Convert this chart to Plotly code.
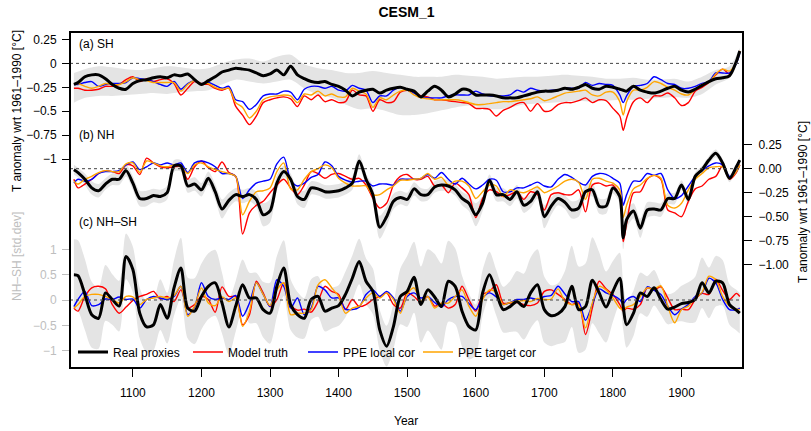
import plotly.graph_objects as go

# ---------------- data ----------------
YEARS = [1014] + list(range(1020, 1811, 10)) + [1815] + list(range(1820, 1981, 10)) + [1985]

# (a) SH  [degC]
SH_REAL = [-0.22,-0.20,-0.14,-0.12,-0.12,-0.16,-0.22,-0.26,-0.27,-0.21,
           -0.18,-0.17,-0.15,-0.14,-0.15,-0.12,-0.13,-0.11,-0.17,-0.22,
           -0.18,-0.14,-0.09,-0.07,-0.05,-0.06,-0.07,-0.10,-0.13,-0.11,
           -0.07,-0.12,-0.03,-0.12,-0.16,-0.19,-0.20,-0.19,-0.22,-0.24,
           -0.28,-0.34,-0.30,-0.28,-0.27,-0.31,-0.28,-0.26,-0.25,-0.27,
           -0.29,-0.35,-0.29,-0.24,-0.28,-0.35,-0.32,-0.27,-0.28,-0.33,
           -0.33,-0.33,-0.34,-0.36,-0.36,-0.36,-0.34,-0.32,-0.30,-0.29,
           -0.29,-0.28,-0.26,-0.27,-0.25,-0.22,-0.26,-0.27,-0.24,-0.25,
           -0.27,-0.28,-0.29,-0.24,-0.28,-0.30,-0.31,-0.29,-0.26,-0.24,
           -0.28,-0.30,-0.27,-0.23,-0.19,-0.16,-0.15,-0.13,0.02,0.13]
SH_TRUTH = [-0.26,-0.26,-0.28,-0.28,-0.27,-0.24,-0.24,-0.22,-0.17,-0.14,
            -0.19,-0.16,-0.19,-0.17,-0.16,-0.21,-0.33,-0.26,-0.19,-0.22,
            -0.22,-0.26,-0.28,-0.26,-0.45,-0.54,-0.64,-0.55,-0.41,-0.38,
            -0.36,-0.35,-0.37,-0.45,-0.34,-0.38,-0.33,-0.40,-0.38,-0.41,
            -0.40,-0.28,-0.33,-0.34,-0.50,-0.38,-0.41,-0.40,-0.30,-0.28,
            -0.30,-0.34,-0.35,-0.38,-0.38,-0.39,-0.40,-0.41,-0.42,-0.47,
            -0.47,-0.48,-0.55,-0.49,-0.46,-0.42,-0.41,-0.50,-0.42,-0.50,
            -0.49,-0.43,-0.41,-0.41,-0.39,-0.36,-0.41,-0.38,-0.39,-0.47,
            -0.55,-0.70,-0.57,-0.40,-0.36,-0.41,-0.34,-0.34,-0.31,-0.36,
            -0.44,-0.41,-0.29,-0.25,-0.20,-0.12,-0.06,-0.11,0.02,0.13]
SH_LOCAL = [-0.22,-0.22,-0.20,-0.19,-0.24,-0.22,-0.21,-0.21,-0.20,-0.15,
            -0.16,-0.17,-0.19,-0.22,-0.24,-0.19,-0.27,-0.21,-0.18,-0.21,
            -0.20,-0.23,-0.26,-0.24,-0.38,-0.40,-0.48,-0.43,-0.34,-0.32,
            -0.32,-0.29,-0.30,-0.38,-0.27,-0.24,-0.24,-0.26,-0.24,-0.28,
            -0.29,-0.23,-0.26,-0.28,-0.41,-0.34,-0.34,-0.28,-0.25,-0.28,
            -0.31,-0.35,-0.36,-0.36,-0.36,-0.34,-0.33,-0.33,-0.33,-0.29,
            -0.32,-0.34,-0.34,-0.34,-0.33,-0.28,-0.30,-0.26,-0.28,-0.29,
            -0.28,-0.28,-0.26,-0.26,-0.26,-0.20,-0.23,-0.21,-0.22,-0.23,
            -0.33,-0.41,-0.34,-0.24,-0.23,-0.21,-0.14,-0.17,-0.21,-0.22,
            -0.26,-0.26,-0.24,-0.21,-0.19,-0.10,-0.10,-0.10,0.00,0.11]
SH_TARGET = [-0.22,-0.21,-0.24,-0.26,-0.24,-0.21,-0.22,-0.22,-0.19,-0.15,
             -0.17,-0.18,-0.20,-0.20,-0.20,-0.20,-0.29,-0.22,-0.18,-0.21,
             -0.21,-0.25,-0.27,-0.26,-0.41,-0.46,-0.57,-0.50,-0.38,-0.35,
             -0.34,-0.33,-0.34,-0.41,-0.32,-0.33,-0.29,-0.34,-0.32,-0.35,
             -0.35,-0.26,-0.29,-0.32,-0.46,-0.36,-0.38,-0.33,-0.29,-0.28,
             -0.33,-0.36,-0.37,-0.38,-0.38,-0.38,-0.38,-0.39,-0.41,-0.43,
             -0.43,-0.42,-0.41,-0.40,-0.40,-0.39,-0.38,-0.37,-0.35,-0.39,
             -0.37,-0.34,-0.31,-0.30,-0.29,-0.28,-0.33,-0.34,-0.30,-0.30,
             -0.40,-0.54,-0.40,-0.28,-0.28,-0.25,-0.19,-0.21,-0.25,-0.28,
             -0.32,-0.33,-0.27,-0.22,-0.20,-0.11,-0.06,-0.08,0.01,0.13]
SH_BAND_YEARS = [1014] + list(range(1030, 1971, 20)) + [1985]
SH_BAND_HI = [-0.10,-0.06,-0.03,-0.04,-0.06,-0.07,-0.05,-0.03,-0.04,-0.06,
              -0.05,0.00,0.04,0.05,0.02,0.07,0.09,-0.01,-0.05,-0.07,
              -0.10,-0.10,-0.08,-0.10,-0.12,-0.14,-0.14,-0.14,-0.12,-0.13,
              -0.14,-0.16,-0.15,-0.14,-0.14,-0.13,-0.12,-0.13,-0.14,-0.16,
              -0.16,-0.15,-0.17,-0.17,-0.16,-0.19,-0.14,-0.07,-0.03,0.16]
SH_BAND_LO = [-0.41,-0.36,-0.34,-0.34,-0.33,-0.32,-0.31,-0.32,-0.30,-0.29,
              -0.28,-0.22,-0.17,-0.19,-0.21,-0.19,-0.17,-0.26,-0.33,-0.36,
              -0.43,-0.48,-0.47,-0.50,-0.54,-0.54,-0.52,-0.49,-0.46,-0.44,
              -0.46,-0.48,-0.46,-0.43,-0.42,-0.41,-0.40,-0.39,-0.40,-0.39,
              -0.38,-0.38,-0.37,-0.36,-0.35,-0.36,-0.32,-0.22,-0.15,0.07]

# (b) NH  [degC]
NH_REAL = [-0.01,-0.04,-0.11,-0.20,-0.23,-0.16,-0.11,-0.11,-0.02,-0.15,
           -0.31,-0.31,-0.28,-0.29,-0.25,0.03,0.03,-0.18,-0.16,-0.22,
           -0.10,-0.24,-0.42,-0.33,-0.27,-0.29,-0.27,-0.32,-0.48,-0.44,
           -0.15,-0.03,-0.11,-0.29,-0.32,-0.20,-0.21,-0.24,-0.24,-0.23,
           -0.20,-0.15,0.08,-0.11,-0.27,-0.61,-0.50,-0.34,-0.30,-0.32,
           -0.21,-0.27,-0.27,-0.19,-0.17,-0.18,-0.22,-0.31,-0.36,-0.48,
           -0.36,-0.12,-0.27,-0.27,-0.32,-0.24,-0.38,-0.34,-0.24,-0.50,
           -0.39,-0.31,-0.35,-0.43,-0.41,-0.24,-0.22,-0.39,-0.39,-0.20,
           -0.29,-0.72,-0.53,-0.44,-0.62,-0.43,-0.42,-0.43,-0.31,-0.31,
           -0.17,-0.32,-0.08,-0.01,0.09,0.16,0.06,-0.10,0.02,0.09]
NH_TRUTH = [-0.11,-0.20,-0.16,-0.11,-0.05,-0.02,-0.03,-0.05,0.04,0.03,
            -0.06,0.11,0.06,0.02,0.01,0.02,0.02,-0.11,0.02,0.08,
            0.01,-0.03,0.07,-0.04,-0.08,-0.68,-0.46,-0.38,-0.34,-0.25,
            -0.17,-0.11,-0.20,-0.27,-0.17,-0.03,-0.05,-0.10,-0.06,-0.05,
            -0.08,-0.11,-0.10,-0.17,-0.31,-0.41,-0.36,-0.17,-0.08,-0.06,
            -0.11,-0.11,-0.08,-0.18,-0.17,-0.25,-0.15,-0.20,-0.27,-0.51,
            -0.31,-0.22,-0.24,-0.29,-0.27,-0.24,-0.32,-0.24,-0.27,-0.43,
            -0.27,-0.25,-0.27,-0.27,-0.22,-0.45,-0.17,-0.15,-0.18,-0.17,
            -0.29,-0.76,-0.57,-0.25,-0.24,-0.11,-0.07,-0.11,-0.43,-0.46,
            -0.50,-0.34,-0.21,-0.18,-0.11,-0.08,0.03,-0.11,-0.04,0.04]
NH_LOCAL = [-0.15,-0.11,-0.13,-0.11,-0.05,-0.03,-0.03,-0.02,0.04,0.07,
            -0.01,0.02,0.06,0.04,0.06,0.04,0.06,-0.04,0.06,0.08,
            0.06,0.02,-0.05,-0.05,-0.08,-0.31,-0.22,-0.15,-0.13,-0.11,
            0.05,0.12,-0.12,-0.18,-0.15,-0.09,-0.06,0.07,0.03,-0.08,
            -0.12,-0.14,-0.13,-0.13,-0.18,-0.16,-0.16,-0.17,-0.11,-0.11,
            -0.11,-0.10,-0.06,-0.10,-0.04,-0.11,-0.16,-0.10,-0.16,-0.21,
            -0.17,-0.11,-0.12,-0.24,-0.24,-0.20,-0.20,-0.17,-0.14,-0.18,
            -0.19,-0.11,-0.06,-0.09,-0.14,-0.17,-0.08,-0.05,-0.06,-0.10,
            -0.15,-0.38,-0.27,-0.13,-0.13,-0.05,-0.07,-0.05,-0.22,-0.31,
            -0.28,-0.18,-0.08,-0.02,0.03,0.06,0.04,-0.08,-0.03,0.04]
NH_TARGET = [-0.13,-0.16,-0.11,-0.08,-0.04,-0.02,-0.03,-0.03,0.05,0.06,
             -0.04,0.08,0.06,0.03,0.02,0.04,0.02,-0.05,0.04,0.06,
             0.02,-0.01,-0.03,-0.05,-0.08,-0.48,-0.34,-0.24,-0.23,-0.20,
             -0.03,0.06,-0.21,-0.22,-0.11,-0.03,0.00,0.04,0.01,-0.10,
             -0.15,-0.18,-0.18,-0.18,-0.27,-0.27,-0.22,-0.18,-0.12,-0.12,
             -0.11,-0.10,-0.05,-0.11,-0.09,-0.17,-0.13,-0.13,-0.18,-0.31,
             -0.24,-0.17,-0.18,-0.29,-0.22,-0.24,-0.25,-0.22,-0.19,-0.25,
             -0.22,-0.18,-0.13,-0.11,-0.14,-0.32,-0.11,-0.10,-0.13,-0.15,
             -0.22,-0.51,-0.38,-0.21,-0.17,-0.10,-0.07,-0.10,-0.38,-0.41,
             -0.36,-0.22,-0.11,-0.05,0.01,0.02,0.02,-0.10,-0.03,0.04]
NH_SPREAD = [0.05,0.05,0.06,0.07,0.07,0.06,
             0.06,0.06,0.06,0.07,0.08,0.08,0.07,0.07,0.07,
             0.06,0.06,0.07,0.07,0.07,0.07,0.08,0.10,0.08,0.07,
             0.07,0.07,0.08,0.12,0.12,0.08,0.06,0.06,0.08,0.09,
             0.07,0.07,0.07,0.07,0.07,0.07,0.07,0.07,0.06,0.08,
             0.12,0.10,0.08,0.07,0.07,0.07,0.07,0.06,0.06,0.06,
             0.06,0.06,0.07,0.08,0.12,0.08,0.06,0.07,0.07,0.07,
             0.07,0.08,0.07,0.07,0.12,0.09,0.07,0.07,0.09,0.09,
             0.07,0.07,0.08,0.08,0.06,0.07,0.12,
             0.10,0.08,0.10,0.08,0.07,0.07,0.06,0.06,0.05,
             0.05,0.04,0.04,0.04,0.04,0.04,0.04,0.03,0.03]

# (c) NH-SH  [std.dev]
NS_REAL = [0.50,0.48,0.11,-0.29,-0.36,0.14,0.01,-0.12,0.86,0.60,
           -0.26,-0.53,-0.49,-0.09,-0.36,0.24,0.63,-0.16,-0.22,0.07,
           0.27,0.34,-0.06,-0.53,-0.12,0.30,0.04,0.04,-0.19,-0.26,
           0.27,0.63,-0.09,-0.29,-0.36,0.01,0.07,-0.22,-0.16,-0.11,
           0.11,0.43,0.76,0.37,0.17,-0.59,-0.91,-0.52,0.07,0.17,
           0.45,-0.09,0.20,0.06,-0.13,0.37,0.27,-0.22,-0.52,-0.59,
           0.14,0.50,0.14,-0.19,-0.13,-0.03,-0.13,0.14,0.30,-0.19,
           -0.31,-0.27,-0.13,0.27,-0.19,-0.13,0.39,0.14,-0.14,0.17,
           0.43,-0.13,-0.49,-0.26,0.14,0.07,0.24,0.01,-0.18,-0.14,
           -0.07,-0.05,0.01,0.34,0.14,0.37,0.34,-0.09,-0.20,-0.26]
NS_TRUTH = [-0.16,-0.22,0.07,0.24,0.27,0.22,-0.09,-0.26,-0.14,-0.01,
            0.07,0.11,0.17,0.02,0.07,-0.03,0.20,-0.16,-0.09,0.07,
            0.01,-0.24,0.26,0.07,0.07,-0.49,-0.29,0.37,0.14,-0.13,
            0.01,0.34,-0.09,-0.20,-0.18,-0.24,-0.03,0.27,0.17,0.11,
            -0.19,0.01,-0.13,-0.09,0.01,0.07,0.14,-0.09,-0.16,0.14,
            0.07,-0.05,0.07,-0.12,-0.07,-0.16,-0.09,0.27,0.01,-0.22,
            0.11,0.17,0.30,-0.06,-0.06,-0.05,-0.09,-0.11,-0.06,0.17,
            0.20,0.11,0.01,-0.09,-0.06,-0.68,-0.16,0.37,0.22,0.11,
            -0.09,-0.22,-0.16,-0.18,-0.09,0.24,0.20,0.26,0.04,-0.19,
            -0.18,-0.19,0.01,0.13,0.11,0.41,0.19,0.01,0.13,0.07]
NS_LOCAL = [-0.13,0.01,0.17,-0.11,-0.09,0.02,0.01,0.06,0.01,0.02,
            -0.16,0.01,0.07,0.04,0.01,0.07,0.27,-0.29,-0.14,0.34,
            0.07,0.01,0.04,0.01,0.09,-0.32,-0.06,0.34,0.11,-0.13,
            0.40,0.27,-0.16,0.04,-0.29,-0.16,0.27,0.20,0.04,0.04,
            -0.18,-0.19,-0.14,0.11,0.20,0.07,0.17,0.04,-0.22,0.07,
            0.14,0.04,0.07,-0.05,-0.14,0.01,0.07,0.07,-0.07,-0.19,
            0.04,0.14,0.06,-0.09,-0.05,0.01,0.01,0.04,0.01,0.07,
            0.09,0.27,0.12,-0.03,-0.03,-0.40,-0.09,0.22,0.14,0.09,
            0.01,-0.07,0.01,0.07,-0.03,0.26,0.19,0.11,-0.12,-0.29,
            -0.18,-0.09,0.07,0.14,0.43,0.34,0.01,-0.19,-0.19,-0.16]
NS_TARGET = [-0.16,-0.09,0.07,0.11,0.11,0.07,0.01,-0.06,0.07,0.06,
             -0.09,0.01,0.04,0.07,0.04,0.09,0.27,-0.32,-0.12,0.24,
             -0.06,-0.11,0.06,-0.03,0.04,-0.52,-0.22,0.34,0.11,-0.11,
             0.20,0.34,-0.29,-0.26,-0.26,-0.19,0.30,0.40,0.24,0.07,
             -0.26,-0.16,-0.12,0.04,0.14,0.04,0.14,0.01,-0.26,0.11,
             0.24,-0.03,0.07,-0.16,-0.06,-0.06,0.07,0.20,-0.12,-0.32,
             0.01,0.20,0.15,-0.09,-0.05,-0.03,-0.01,-0.03,0.03,0.01,
             0.02,0.22,-0.03,-0.09,-0.09,-0.55,-0.06,0.27,0.20,0.04,
             -0.16,-0.19,-0.14,-0.09,0.07,0.24,0.22,0.28,-0.12,-0.45,
             -0.19,-0.12,0.04,0.15,0.47,0.40,0.07,-0.12,-0.18,-0.19]
NS_SPREAD = [0.70,0.70,0.70,0.65,0.60,0.55,
             0.50,0.50,0.45,0.45,0.50,0.50,0.50,0.50,0.50,
             0.55,0.60,0.60,0.65,0.65,0.65,0.65,0.60,0.55,0.50,
             0.50,0.50,0.50,0.55,0.60,0.60,0.55,0.50,0.45,0.40,
             0.40,0.40,0.40,0.40,0.40,0.45,0.45,0.45,0.45,0.45,
             0.40,0.40,0.45,0.55,0.70,0.70,0.75,0.80,0.85,0.85,
             0.80,0.75,0.70,0.65,0.50,0.45,0.45,0.45,0.45,0.50,
             0.60,0.65,0.70,0.70,0.65,0.60,0.60,0.70,0.80,0.85,
             0.85,0.85,0.80,0.70,0.60,0.50,0.45,
             0.45,0.45,0.40,0.40,0.35,0.30,0.30,0.30,0.35,
             0.40,0.45,0.50,0.50,0.50,0.45,0.40,0.40,0.40]

SERIES_NAMES = ["Real proxies", "Model truth", "PPE local cor", "PPE target cor"]
X_TICKS = [1100, 1200, 1300, 1400, 1500, 1600, 1700, 1800, 1900]
SH_TICKS = [0.25, 0, -0.25, -0.5, -0.75, -1]
SH_TICKTEXT = ["0.25", "0", "\u22120.25", "\u22120.5", "\u22120.75", "\u22121"]
NH_TICKS = [0.25, 0, -0.25, -0.5, -0.75, -1]
NH_TICKTEXT = ["0.25", "0.00", "\u22120.25", "\u22120.50", "\u22120.75", "\u22121.00"]
NS_TICKS = [1, 0.5, 0, -0.5, -1]
NS_TICKTEXT = ["1", "0.5", "0", "\u22120.5", "\u22121"]

# ---------------- styling ----------------
FONT = "Liberation Sans, Arial, Helvetica, sans-serif"
BAND = "rgb(228,228,228)"
GREYTXT = "rgb(190,190,190)"
COLORS = ["black", "#FF0000", "#0000FF", "#FFA500"]
WIDTHS = [3.0, 1.4, 1.4, 1.4]
RANKS = [1, 2, 3, 4]

W, H = 811, 431
L, R, T, B = 70, 68, 32, 63
PW, PH = W - L - R, H - T - B


def px(x):
    return (x - L) / PW


def py(y):
    return (H - B - y) / PH


fig = go.Figure()


def add_band(xs, lo, hi, axis):
    fig.add_trace(go.Scatter(x=xs, y=hi, yaxis=axis, mode="lines",
                             line=dict(width=0, shape="spline", smoothing=0.8),
                             showlegend=False, hoverinfo="skip"))
    fig.add_trace(go.Scatter(x=xs, y=lo, yaxis=axis, mode="lines", fill="tonexty",
                             fillcolor=BAND,
                             line=dict(width=0, shape="spline", smoothing=0.8),
                             showlegend=False, hoverinfo="skip"))


def add_lines(series, axis, legend):
    order = [1, 2, 3, 0]  # red, blue, orange, then black on top
    for i in order:
        fig.add_trace(go.Scatter(
            x=YEARS, y=series[i], yaxis=axis, mode="lines", name=SERIES_NAMES[i],
            line=dict(color=COLORS[i], width=WIDTHS[i], shape="spline", smoothing=0.8),
            showlegend=legend, legendrank=RANKS[i]))


# panel (a)
add_band(SH_BAND_YEARS, SH_BAND_LO, SH_BAND_HI, "y")
add_lines([SH_REAL, SH_TRUTH, SH_LOCAL, SH_TARGET], "y", True)

# panel (b)
nh_lo = [m - s for m, s in zip(NH_REAL, NH_SPREAD)]
nh_hi = [m + s for m, s in zip(NH_REAL, NH_SPREAD)]
add_band(YEARS, nh_lo, nh_hi, "y2")
add_lines([NH_REAL, NH_TRUTH, NH_LOCAL, NH_TARGET], "y2", False)

# panel (c)
ns_lo = [m - s for m, s in zip(NS_REAL, NS_SPREAD)]
ns_hi = [m + s for m, s in zip(NS_REAL, NS_SPREAD)]
add_band(YEARS, ns_lo, ns_hi, "y3")
add_lines([NS_REAL, NS_TRUTH, NS_LOCAL, NS_TARGET], "y3", False)

# empty spacer entry so the last legend label is not clipped
fig.add_trace(go.Scatter(x=[None], y=[None], mode="lines", name=" ",
                         line=dict(color="rgba(0,0,0,0)", width=0),
                         showlegend=True, legendrank=5, hoverinfo="skip"))

tickfont = dict(family=FONT, size=12, color="black")

fig.update_layout(
    width=W, height=H,
    margin=dict(l=L, r=R, t=T, b=B),
    paper_bgcolor="white", plot_bgcolor="white",
    font=dict(family=FONT, size=12, color="black"),
    title=dict(text="<b>CESM_1</b>", x=0.5, xref="paper", xanchor="center",
               y=1 - 12 / H, yref="container", yanchor="middle",
               font=dict(family=FONT, size=14, color="black")),
    xaxis=dict(range=[1008.3, 1989.7], tickvals=X_TICKS, ticks="outside", ticklen=8,
               tickcolor="black", tickwidth=1, showgrid=False, zeroline=False,
               showline=False, tickfont=tickfont, ticklabelstandoff=6),
    yaxis=dict(range=[-3.183, 0.328], tickvals=SH_TICKS, ticktext=SH_TICKTEXT,
               ticks="outside", ticklen=7, tickcolor="black", showgrid=False,
               zeroline=False, showline=False, tickfont=tickfont, ticklabelstandoff=3),
    yaxis2=dict(range=[-2.076, 1.424], tickvals=NH_TICKS, ticktext=NH_TICKTEXT,
                overlaying="y", side="right", anchor="x",
                ticks="outside", ticklen=8, tickcolor="black", showgrid=False,
                zeroline=False, showline=False, tickfont=tickfont, ticklabelstandoff=4),
    yaxis3=dict(range=[-1.341, 5.286], tickvals=NS_TICKS, ticktext=NS_TICKTEXT,
                overlaying="y", side="left", anchor="x",
                ticks="outside", ticklen=7, tickcolor=GREYTXT, showgrid=False,
                zeroline=False, showline=False,
                tickfont=dict(family=FONT, size=12, color=GREYTXT), ticklabelstandoff=3),
    legend=dict(orientation="h", x=px(73), y=py(352), xanchor="left", yanchor="middle",
                bgcolor="rgba(0,0,0,0)", font=dict(family=FONT, size=12),
                entrywidth=70, traceorder="normal"),
    showlegend=True,
)

# zero reference lines
for ax in ["y", "y2", "y3"]:
    fig.add_shape(type="line", xref="paper", x0=0, x1=1, yref=ax, y0=0, y1=0,
                  line=dict(color="#444444", width=1, dash="dot"), layer="above")

# box
fig.add_shape(type="rect", xref="paper", yref="paper", x0=0, x1=1, y0=0, y1=1,
              line=dict(color="black", width=2))

ann = [
    dict(text="(a) SH", x=px(77), y=py(44)),
    dict(text="(b) NH", x=px(77), y=py(135)),
    dict(text="(c) NH\u2013SH", x=px(77), y=py(222)),
]
for a in ann:
    fig.add_annotation(xref="paper", yref="paper", xanchor="left", yanchor="middle",
                       showarrow=False, font=dict(family=FONT, size=12, color="black"), **a)

fig.add_annotation(text="T anomaly wrt 1961\u20131990 [\u00b0C]", xref="paper", yref="paper",
                   x=px(17), y=py(111), textangle=-90, showarrow=False,
                   xanchor="center", yanchor="middle",
                   font=dict(family=FONT, size=12, color="black"))
fig.add_annotation(text="NH\u2013SH [std.dev]", xref="paper", yref="paper",
                   x=px(17), y=py(257), textangle=-90, showarrow=False,
                   xanchor="center", yanchor="middle",
                   font=dict(family=FONT, size=12, color=GREYTXT))
fig.add_annotation(text="T anomaly wrt 1961\u20131990 [\u00b0C]", xref="paper", yref="paper",
                   x=px(803), y=py(202), textangle=-90, showarrow=False,
                   xanchor="center", yanchor="middle",
                   font=dict(family=FONT, size=12, color="black"))
fig.add_annotation(text="Year", xref="paper", yref="paper", x=px(406), y=py(421),
                   showarrow=False, xanchor="center", yanchor="middle",
                   font=dict(family=FONT, size=12, color="black"))

fig.write_html(
    "out.html",
    config={"displayModeBar": False},
    post_script="document.body.style.margin='0';document.body.style.padding='0';",
)
